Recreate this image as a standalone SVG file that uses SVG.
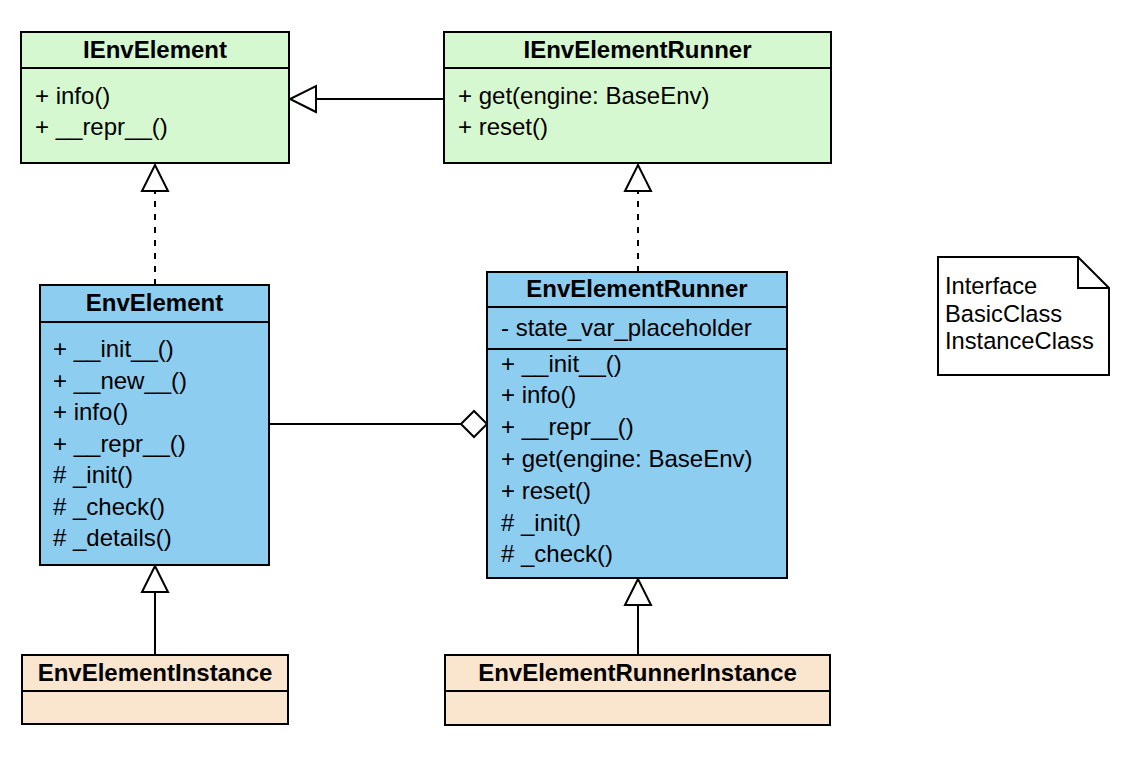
<svg xmlns="http://www.w3.org/2000/svg" width="1142" height="774" viewBox="0 0 1142 774">
  <style>
    .box { stroke: #000; stroke-width: 2; }
    .iface { fill: #d6f8d0; }
    .basic { fill: #8dcdf0; }
    .inst { fill: #fae5cf; }
    .sep { stroke: #000; stroke-width: 2; fill: none; }
    .title { font-family: "Liberation Sans", Arial, Helvetica, sans-serif; font-size: 24px; font-weight: bold; text-anchor: middle; fill: #000; }
    .row { font-family: "Liberation Sans", Arial, Helvetica, sans-serif; font-size: 24px; fill: #000; }
    .note { font-family: "Liberation Sans", Arial, Helvetica, sans-serif; font-size: 23.7px; fill: #000; }
    .edge { stroke: #000; stroke-width: 2; fill: none; }
    .dash { stroke-dasharray: 6 7; }
  </style>
  <defs>
    <!-- hollow triangle for generalization / realization -->
    <marker id="hollowTri" markerUnits="userSpaceOnUse" markerWidth="32" markerHeight="32" refX="27" refY="15" orient="auto" viewBox="0 0 32 32">
      <path d="M1,2 L27,15 L1,28 Z" fill="#fff" stroke="#000" stroke-width="2" stroke-linejoin="miter"/>
    </marker>
    <!-- hollow diamond for aggregation -->
    <marker id="hollowDiamond" markerUnits="userSpaceOnUse" markerWidth="32" markerHeight="32" refX="27" refY="15" orient="auto" viewBox="0 0 32 32">
      <path d="M1,15 L14,2 L27,15 L14,28 Z" fill="#fff" stroke="#000" stroke-width="2"/>
    </marker>
  </defs>

  <rect width="1142" height="774" fill="#fff"/>

  <g id="connectors">
    <line class="edge" x1="444" y1="99" x2="290" y2="99" marker-end="url(#hollowTri)"/>
    <line class="edge dash" x1="155" y1="285" x2="155" y2="165" marker-end="url(#hollowTri)"/>
    <line class="edge dash" x1="638" y1="272" x2="638" y2="165" marker-end="url(#hollowTri)"/>
    <line class="edge" x1="270" y1="424" x2="487" y2="424" marker-end="url(#hollowDiamond)"/>
    <line class="edge" x1="155" y1="655" x2="155" y2="566" marker-end="url(#hollowTri)"/>
    <line class="edge" x1="638" y1="655" x2="638" y2="579" marker-end="url(#hollowTri)"/>
  </g>

  <g id="IEnvElement">
    <rect class="box iface" x="21" y="32" width="268" height="131"/>
    <line class="sep" x1="21" y1="68" x2="289" y2="68"/>
    <text class="title" x="155" y="58">IEnvElement</text>
    <text class="row" x="35" y="104">+ info()</text>
    <text class="row" x="35" y="135">+ __repr__()</text>
  </g>

  <g id="IEnvElementRunner">
    <rect class="box iface" x="444" y="32" width="387" height="131"/>
    <line class="sep" x1="444" y1="68" x2="831" y2="68"/>
    <text class="title" x="637.5" y="58">IEnvElementRunner</text>
    <text class="row" x="458" y="104">+ get(engine: BaseEnv)</text>
    <text class="row" x="458" y="135">+ reset()</text>
  </g>

  <g id="EnvElement">
    <rect class="box basic" x="40" y="285" width="229" height="280"/>
    <line class="sep" x1="40" y1="322" x2="269" y2="322"/>
    <text class="title" x="154.5" y="311">EnvElement</text>
    <text class="row" x="53" y="357">+ __init__()</text>
    <text class="row" x="53" y="388.5">+ __new__()</text>
    <text class="row" x="53" y="420">+ info()</text>
    <text class="row" x="53" y="451.5">+ __repr__()</text>
    <text class="row" x="53" y="483"># _init()</text>
    <text class="row" x="53" y="514.5"># _check()</text>
    <text class="row" x="53" y="546"># _details()</text>
  </g>

  <g id="EnvElementRunner">
    <rect class="box basic" x="487" y="272" width="300" height="306"/>
    <line class="sep" x1="487" y1="307" x2="787" y2="307"/>
    <line class="sep" x1="487" y1="349" x2="787" y2="349"/>
    <text class="title" x="637" y="297">EnvElementRunner</text>
    <text class="row" x="501" y="336">- state_var_placeholder</text>
    <text class="row" x="501" y="371.5">+ __init__()</text>
    <text class="row" x="501" y="403.3">+ info()</text>
    <text class="row" x="501" y="435.1">+ __repr__()</text>
    <text class="row" x="501" y="466.9">+ get(engine: BaseEnv)</text>
    <text class="row" x="501" y="498.7">+ reset()</text>
    <text class="row" x="501" y="530.5"># _init()</text>
    <text class="row" x="501" y="562.3"># _check()</text>
  </g>

  <g id="EnvElementInstance">
    <rect class="box inst" x="22" y="655" width="266" height="69"/>
    <line class="sep" x1="22" y1="691" x2="288" y2="691"/>
    <text class="title" x="155" y="681">EnvElementInstance</text>
  </g>

  <g id="EnvElementRunnerInstance">
    <rect class="box inst" x="445" y="655" width="385" height="70"/>
    <line class="sep" x1="445" y1="691" x2="830" y2="691"/>
    <text class="title" x="637.5" y="681">EnvElementRunnerInstance</text>
  </g>

  <g id="legend-note">
    <path class="box" fill="#fff" d="M938,257 L1078,257 L1109,288 L1109,375 L938,375 Z"/>
    <path class="sep" d="M1078,257 L1078,288 L1109,288"/>
    <text class="note" x="945" y="294">Interface</text>
    <text class="note" x="945" y="322">BasicClass</text>
    <text class="note" x="945" y="349">InstanceClass</text>
  </g>
</svg>
